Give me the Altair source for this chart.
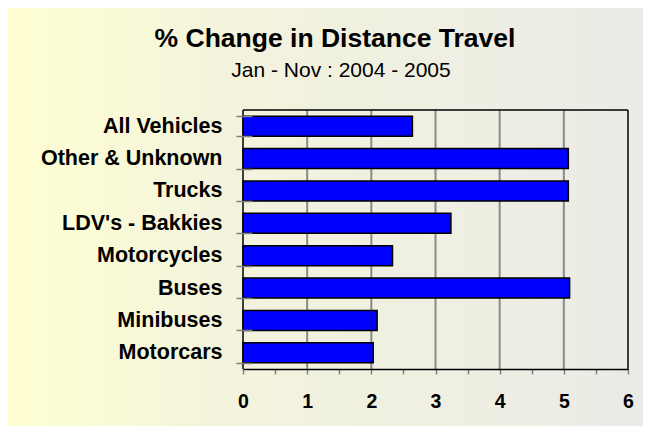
import altair as alt
import pandas as pd

categories = ["All Vehicles", "Other & Unknown", "Trucks", "LDV's - Bakkies",
              "Motorcycles", "Buses", "Minibuses", "Motorcars"]
values = [2.64, 5.07, 5.07, 3.24, 2.33, 5.09, 2.09, 2.03]
x_ticks = [0, 0.5, 1, 1.5, 2, 2.5, 3, 3.5, 4, 4.5, 5, 5.5, 6]
grid_vals = [1, 2, 3, 4, 5]
title_text = "% Change in Distance Travel"
subtitle_text = "Jan - Nov : 2004 - 2005"

W, H = 385, 259
PL, PT, PR, PB = 235, 102, 15, 57

df = pd.DataFrame({"cat": categories, "value": values})
gdf = pd.DataFrame({"value": grid_vals})
one = pd.DataFrame({"t": [title_text]})
one2 = pd.DataFrame({"t": [subtitle_text]})

xscale = alt.Scale(domain=[0, 6], nice=False, zero=True)
yscale = alt.Scale(domain=categories, paddingInner=0.38, paddingOuter=0.19)

xaxis = alt.Axis(values=x_ticks, grid=False, zindex=1,
                 labelExpr="datum.value % 1 == 0 ? format(datum.value, 'd') : ''",
                 labelOverlap=False, labelFlush=False,
                 labelFont="Liberation Sans", labelFontSize=19.5, labelFontWeight="bold",
                 labelColor="#000000", labelPadding=18,
                 tickColor="#808080", tickSize=5, tickWidth=1.5,
                 domainColor="#000000", domainWidth=1.5)

gradient = alt.LinearGradient(
    gradient="linear",
    stops=[alt.GradientStop(color="#FFFFD2", offset=0),
           alt.GradientStop(color="#F3F3DD", offset=0.35),
           alt.GradientStop(color="#EBEBE7", offset=1)],
    x1=0, x2=1, y1=0, y2=0)

bg = alt.Chart(one).mark_rect(fill=gradient, strokeWidth=0).encode(
    x=alt.value(-PL), x2=alt.value(W + PR), y=alt.value(-PT), y2=alt.value(H + PB))

grid = alt.Chart(gdf).mark_rule(color="#8a8a8a", strokeWidth=2).encode(
    x=alt.X("value:Q", scale=xscale, title=None, axis=xaxis))

bars = alt.Chart(df).mark_bar(color="#0000FF", stroke="#000000", strokeWidth=1.5).encode(
    x=alt.X("value:Q", scale=xscale, title=None, axis=xaxis),
    y=alt.Y("cat:N", scale=yscale, sort=categories, title=None,
            axis=alt.Axis(zindex=1, domain=False, offset=-9, tickBand="extent",
                          tickSize=16, tickColor="#808080", tickWidth=1.5,
                          labelLimit=300,
                          labelFont="Liberation Sans", labelFontSize=21.5, labelFontWeight="bold",
                          labelColor="#000000", labelPadding=14)))

left_dom = alt.Chart(one).mark_rule(color="#000000", strokeWidth=1.5).encode(
    x=alt.value(0), y=alt.value(0), y2=alt.value(H))
top_border = alt.Chart(one).mark_rule(color="#000000", strokeWidth=1.5).encode(
    x=alt.value(0), x2=alt.value(W), y=alt.value(0))
right_border = alt.Chart(one).mark_rule(color="#000000", strokeWidth=1.5).encode(
    x=alt.value(W), y=alt.value(0), y2=alt.value(H))

title = alt.Chart(one).mark_text(font="Liberation Sans", fontSize=26.5, fontWeight="bold",
                                 color="#000000", align="center", baseline="alphabetic").encode(
    text="t:N", x=alt.value(92), y=alt.value(-63))
subtitle = alt.Chart(one2).mark_text(font="Liberation Sans", fontSize=21,
                                     color="#000000", align="center", baseline="alphabetic").encode(
    text="t:N", x=alt.value(98), y=alt.value(-33))

chart = alt.layer(bg, grid, bars, left_dom, top_border, right_border, title, subtitle).properties(
    width=W, height=H,
    padding={"left": PL, "top": PT, "right": PR, "bottom": PB},
    autosize=alt.AutoSizeParams(type="none"),
).configure_view(strokeWidth=0)

chart.save("out.html", embed_options={"renderer": "svg", "actions": False})
